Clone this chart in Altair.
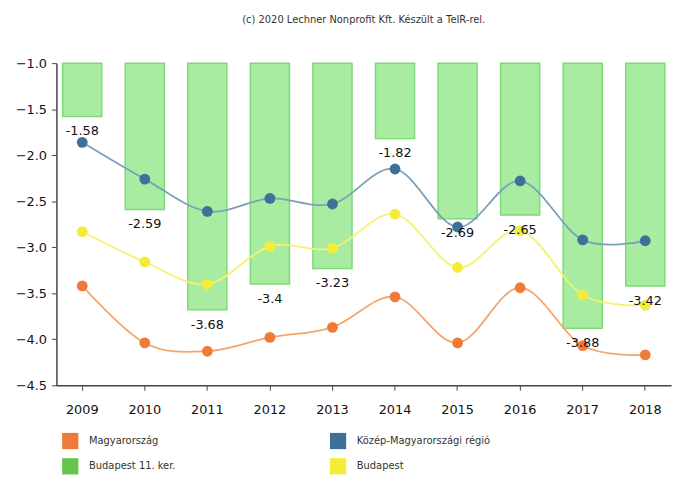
import altair as alt
import pandas as pd

years = ["2009", "2010", "2011", "2012", "2013", "2014", "2015", "2016", "2017", "2018"]
bp11 = [-1.58, -2.59, -3.68, -3.40, -3.23, -1.82, -2.69, -2.65, -3.88, -3.42]
kozep = [-1.86, -2.26, -2.61, -2.47, -2.53, -2.15, -2.78, -2.28, -2.92, -2.93]
budapest = [-2.83, -3.16, -3.40, -2.99, -3.01, -2.64, -3.22, -2.82, -3.52, -3.63]
magyar = [-3.42, -4.04, -4.13, -3.98, -3.87, -3.54, -4.04, -3.44, -4.07, -4.17]

# legend order (filled column by column: col 1 = first two, col 2 = last two)
series_names = ["Magyarország", "Budapest 11. ker.", "Közép-Magyarországi régió", "Budapest"]
legend_colors = ["#f07a3a", "#66c44c", "#3f7097", "#f3ec3a"]
line_colors = ["#f5a66c", "#7a9fb8", "#f6f170"]

bars = pd.DataFrame({"year": years, "value": bp11})
bars["label"] = [f"{v:g}" for v in bp11]

rows = []
for name, vals in [("Magyarország", magyar), ("Közép-Magyarországi régió", kozep), ("Budapest", budapest)]:
    for y, v in zip(years, vals):
        rows.append({"year": y, "value": v, "series": name})
lines = pd.DataFrame(rows)

font = "DejaVu Sans"
x = alt.X("year:N", sort=years, title=None,
          scale=alt.Scale(paddingInner=0.375, paddingOuter=0.1),
          axis=alt.Axis(labelAngle=0, labelFontSize=13, labelColor="#111", labelFont=font,
                        labelPadding=14, tickSize=5, tickColor="#444", domainColor="#444",
                        domainWidth=1.5, grid=False))
yscale = alt.Scale(domain=[-4.5, -1.0], nice=False, zero=False)
y = alt.Y("value:Q", scale=yscale, title=None,
          axis=alt.Axis(values=[-1.0, -1.5, -2.0, -2.5, -3.0, -3.5, -4.0, -4.5], format=".1f",
                        labelFontSize=13, labelColor="#111", labelFont=font, tickSize=5,
                        tickColor="#444", domainColor="#444", domainWidth=1.5, grid=False,
                        labelPadding=5))

bar_layer = alt.Chart(bars).mark_bar(fill="#a8eca2", stroke="#7fd979", strokeWidth=1.5).encode(
    x=x, y=y, y2=alt.datum(-1.0))

label_layer = alt.Chart(bars).mark_text(fontSize=13, font=font, color="#111", dy=15,
                                        baseline="middle").encode(
    x=alt.X("year:N", sort=years), y=alt.Y("value:Q", scale=yscale), text="label:N")

line_layer = alt.Chart(lines).mark_line(interpolate="cardinal", strokeWidth=1.8).encode(
    x=alt.X("year:N", sort=years), y=alt.Y("value:Q", scale=yscale),
    stroke=alt.Stroke("series:N", scale=alt.Scale(domain=["Magyarország", "Közép-Magyarországi régió", "Budapest"],
                                                   range=line_colors), legend=None))

point_layer = alt.Chart(lines).mark_circle(size=120, opacity=1).encode(
    x=alt.X("year:N", sort=years), y=alt.Y("value:Q", scale=yscale),
    color=alt.Color("series:N", scale=alt.Scale(domain=series_names, range=legend_colors),
                    legend=alt.Legend(title=None, orient="none", legendX=5, legendY=373,
                                      columns=2, columnPadding=155, rowPadding=8,
                                      symbolType="square", symbolSize=270, symbolOpacity=1,
                                      labelFontSize=10, labelFont=font, labelColor="#333",
                                      labelOffset=10)))

chart = alt.layer(bar_layer, line_layer, point_layer, label_layer).properties(
    width=622, height=326,
    autosize=alt.AutoSizeParams(type="none"),
    padding={"left": 49, "top": 53, "right": 5, "bottom": 90},
    title=alt.TitleParams("(c) 2020 Lechner Nonprofit Kft. Készült a TeIR-rel.", fontSize=10,
                          font=font, fontWeight="normal", color="#333", offset=33, anchor="middle"),
).configure_view(stroke=None)

chart.save("out.html", embed_options={"renderer": "svg", "actions": False})
